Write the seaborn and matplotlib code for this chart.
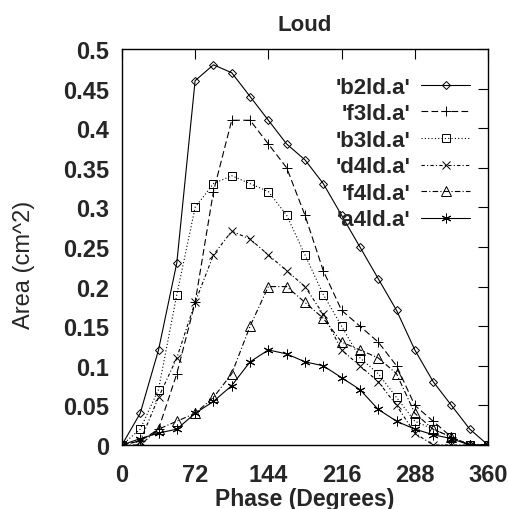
import matplotlib
matplotlib.use("Agg")
import matplotlib.pyplot as plt
import seaborn as sns
import pandas as pd

phase = [0, 18, 36, 54, 72, 90, 108, 126, 144, 162, 180, 198, 216, 234, 252, 270, 288, 306, 324, 342, 360]
b2ld = [0, 0.04, 0.12, 0.23, 0.46, 0.48, 0.47, 0.44, 0.41, 0.38, 0.36, 0.33, 0.29, 0.25, 0.21, 0.17, 0.12, 0.08, 0.05, 0.02, 0.0]
f3ld = [0, 0.005, 0.02, 0.09, 0.18, 0.32, 0.41, 0.41, 0.38, 0.35, 0.29, 0.22, 0.17, 0.15, 0.13, 0.10, 0.05, 0.03, 0.01, 0.0, 0.0]
b3ld = [0, 0.02, 0.07, 0.19, 0.30, 0.33, 0.34, 0.33, 0.32, 0.29, 0.24, 0.19, 0.15, 0.11, 0.09, 0.06, 0.03, 0.02, 0.01, 0.0, 0.0]
d4ld = [0, 0.005, 0.06, 0.11, 0.18, 0.24, 0.27, 0.26, 0.24, 0.22, 0.20, 0.165, 0.12, 0.10, 0.08, 0.05, 0.015, 0.0, 0.0, 0.0, 0.0]
f4ld = [0, 0.0, 0.02, 0.03, 0.04, 0.06, 0.09, 0.15, 0.20, 0.20, 0.18, 0.16, 0.13, 0.12, 0.11, 0.09, 0.04, 0.02, 0.01, 0.0, 0.0]
a4ld = [0, 0.008, 0.015, 0.02, 0.04, 0.055, 0.075, 0.105, 0.12, 0.115, 0.105, 0.10, 0.085, 0.07, 0.045, 0.03, 0.02, 0.013, 0.008, 0.0, 0.0]

labels = ["'b2ld.a'", "'f3ld.a'", "'b3ld.a'", "'d4ld.a'", "'f4ld.a'", "'a4ld.a'"]
series = [b2ld, f3ld, b3ld, d4ld, f4ld, a4ld]
xticks = [0, 72, 144, 216, 288, 360]
yticks = [0, 0.05, 0.1, 0.15, 0.2, 0.25, 0.3, 0.35, 0.4, 0.45, 0.5]
ytick_labels = ["0", "0.05", "0.1", "0.15", "0.2", "0.25", "0.3", "0.35", "0.4", "0.45", "0.5"]

sns.set_theme(style="white")
plt.rcParams['font.family'] = ['Liberation Sans', 'DejaVu Sans']

styles = [
    dict(marker='D', ms=4.5, dashes=None),
    dict(marker='+', ms=7, dashes=(6, 3)),
    dict(marker='s', ms=6, dashes=(1, 2)),
    dict(marker='x', ms=6, dashes=(3, 2, 1, 2)),
    dict(marker='^', ms=6.5, dashes=(5, 2, 1, 2)),
    dict(marker=(6, 2, 0), ms=7, dashes=None),
]

fig = plt.figure(figsize=(5.1, 5.1), dpi=100)
ax = fig.add_axes([0.239, 0.1255, 0.718, 0.7765])

for lab, vals, st in zip(labels, series, styles):
    df = pd.DataFrame({"Phase": phase, "Area": vals})
    kw = dict(color='black', linewidth=0.8, marker=st['marker'], markersize=st['ms'],
              markerfacecolor='none', markeredgecolor='black', markeredgewidth=0.7)
    if st['dashes'] is not None:
        kw['dashes'] = st['dashes']
    sns.lineplot(data=df, x="Phase", y="Area", ax=ax, label=lab, **kw)

ax.set_xlim(0, 360)
ax.set_ylim(0, 0.5)
ax.set_xticks(xticks)
ax.set_xticklabels([str(t) for t in xticks], fontsize=17, fontweight='bold')
ax.set_yticks(yticks)
ax.set_yticklabels(ytick_labels, fontsize=17, fontweight='bold')
ax.tick_params(direction='in', length=7, width=0.8, top=True, right=True, color='black')
ax.tick_params(axis='x', pad=13)
ax.tick_params(axis='y', pad=9)
for s in ax.spines.values():
    s.set_color('black')
    s.set_linewidth(1.0)

ax.set_title("Loud", fontsize=16, fontweight='bold', pad=14)
ax.set_xlabel("Phase (Degrees)", fontsize=16.5, fontweight='bold')
ax.set_ylabel("Area (cm^2)", fontsize=17)
ax.xaxis.set_label_coords(0.5, -0.106)
ax.yaxis.set_label_coords(-0.238, 0.457)

leg = ax.legend(loc='upper right', bbox_to_anchor=(0.951, 0.93), frameon=False,
                markerfirst=False, borderpad=0, borderaxespad=0, handlelength=2.2,
                handletextpad=0.5, labelspacing=0.25,
                prop=dict(family='Liberation Sans', weight='bold', size=16))

fig.savefig("out.png", dpi=100)
